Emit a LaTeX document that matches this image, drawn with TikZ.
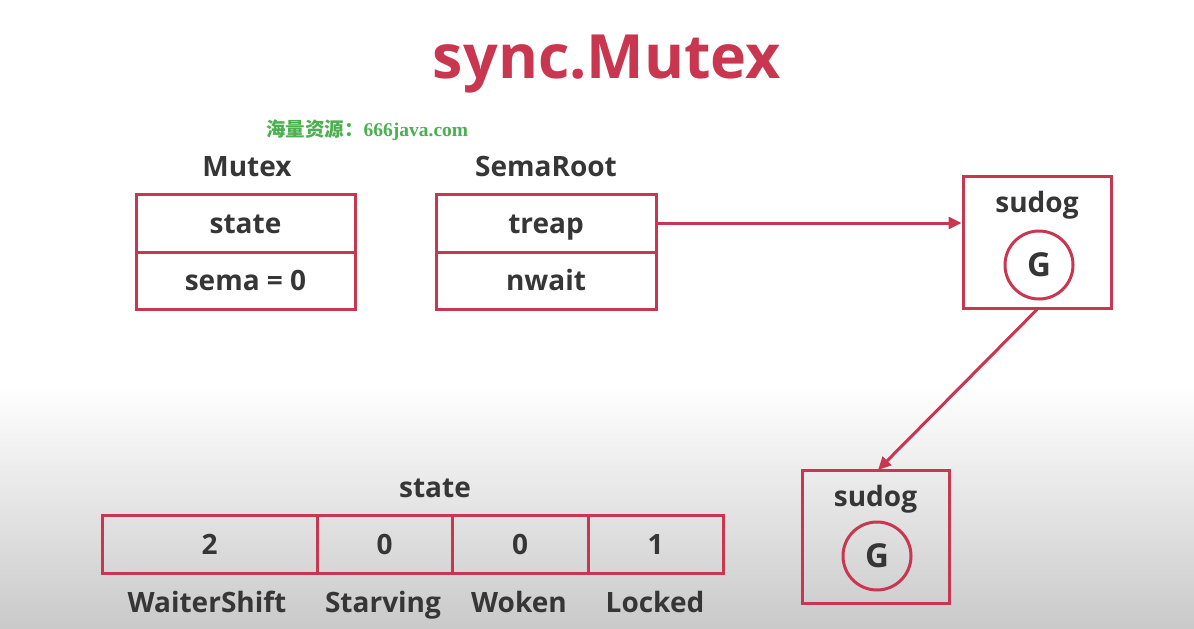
\documentclass[tikz,border=0pt]{standalone}
\usepackage{fontspec}
\setmainfont{Open Sans}
\newfontfamily\cjk{Noto Sans CJK SC}
\newfontfamily\wmserif{Liberation Serif}
\usetikzlibrary{arrows.meta,shadings}
\definecolor{mred}{HTML}{C8374F}
\definecolor{mtext}{HTML}{363636}
\definecolor{wgreen}{HTML}{4CAF50}
\begin{document}
\begin{tikzpicture}[x=1pt,y=-1pt,
  lbl/.style={font=\fontsize{28}{32}\selectfont\bfseries, text=mtext, inner sep=0pt, text height=20pt, text depth=0pt},
  cell/.style={draw=mred, line width=3pt, inner sep=0pt, font=\fontsize{28}{32}\selectfont\bfseries, text=mtext, text height=20pt, text depth=0pt},
  conn/.style={draw=mred, line width=3pt, -{Triangle[length=13pt,width=12pt]}},
  gcirc/.style={draw=mred, line width=3pt, circle, minimum size=68pt, inner sep=0pt, font=\fontsize{33}{36}\selectfont\bfseries, text=mtext, text height=23.5pt, text depth=0pt}
]
\useasboundingbox (0,0) rectangle (1194,629);
\fill[white] (0,0) rectangle (1194,629);
\shade[top color=white, bottom color=black!21] (0,385) rectangle (1194,629);

% title
\node[font=\fontsize{61}{66}\selectfont\bfseries, text=mred, inner sep=0pt, text height=43.5pt, text depth=0pt] (title) at (607,57) {sync.Mutex};
\node[font=\fontsize{19.5}{22}\selectfont\bfseries, text=wgreen, inner sep=0pt, anchor=west] (wm) at (266,130) {{\cjk 海量资源：}\wmserif 666java.com};

% Mutex
\node[lbl] (mutexlbl) at (247,166) {Mutex};
\node[cell, minimum width=219pt, minimum height=58pt] (mstate) at (245.5,223) {state};
\node[cell, minimum width=219pt, minimum height=57pt] (msema) at (245.5,280.5) {sema = 0};

% SemaRoot
\node[lbl] (semalbl) at (546,166) {SemaRoot};
\node[cell, minimum width=220pt, minimum height=58pt] (streap) at (546,223) {treap};
\node[cell, minimum width=220pt, minimum height=57pt] (snwait) at (546,280.5) {nwait};

% sudog 1
\node[cell, minimum width=148pt, minimum height=132pt] (sud1) at (1037,242) {};
\node[lbl] (sud1lbl) at (1037,202) {sudog};
\node[gcirc] (g1) at (1039,265) {G};

% sudog 2
\node[cell, minimum width=147pt, minimum height=133pt] (sud2) at (875.5,536.5) {};
\node[lbl] (sud2lbl) at (875.5,496) {sudog};
\node[gcirc] (g2) at (877,556) {G};

% connectors
\draw[conn] (streap.east) -- (streap.east -| sud1.west);
\coordinate (a2) at (878,470);
\draw[conn] (sud1.south) -- (a2);

% state row
\node[lbl] (statelbl) at (435,487) {state};
\node[cell, minimum width=215pt, minimum height=58pt] (c1) at (209.5,544) {2};
\node[cell, minimum width=135pt, minimum height=58pt] (c2) at (384.5,544) {0};
\node[cell, minimum width=136pt, minimum height=58pt] (c3) at (520,544) {0};
\node[cell, minimum width=135pt, minimum height=58pt] (c4) at (655.5,544) {1};
\node[lbl] (l1) at (207,602) {WaiterShift};
\node[lbl] (l2) at (383,602) {Starving};
\node[lbl] (l3) at (519,602) {Woken};
\node[lbl] (l4) at (655,602) {Locked};
\end{tikzpicture}
\end{document}
